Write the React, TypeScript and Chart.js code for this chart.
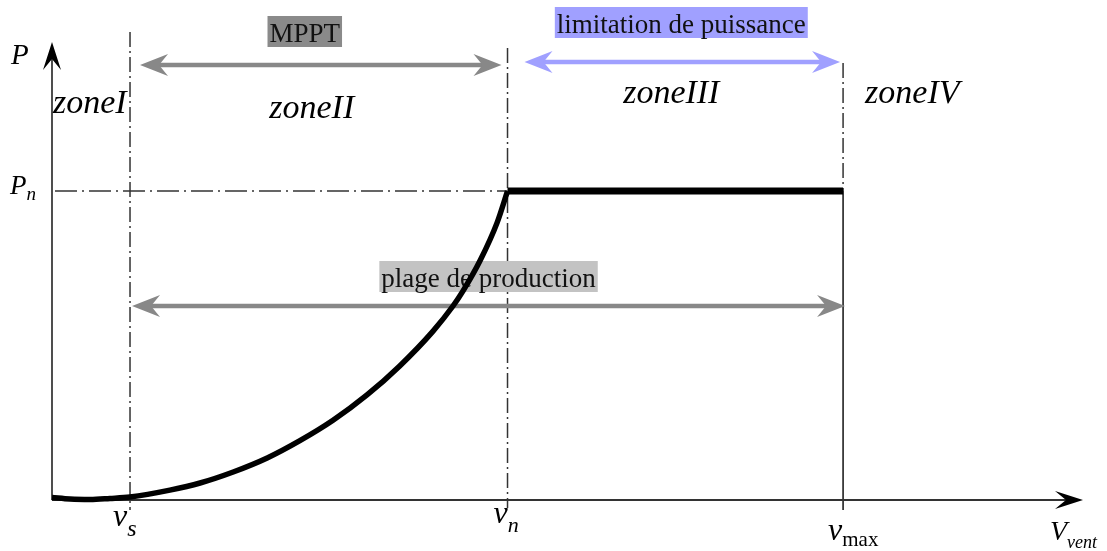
import React, { useEffect, useRef } from "react";
import { Chart, registerables } from "chart.js";

Chart.register(...registerables);

// Power curve (wind speed, normalised power)
const windSpeeds = [1.14, 1.57, 2.05, 2.52, 3.0, 3.95, 4.67, 5.46, 6.27, 7.05, 7.84, 8.65, 9.43, 10.22, 10.7, 10.94, 11.35, 11.75, 12.0];
const powerValues = [0.008, 0.003, 0.0016, 0.005, 0.0097, 0.032, 0.055, 0.0906, 0.136, 0.192, 0.258, 0.34, 0.434, 0.546, 0.628, 0.677, 0.776, 0.897, 1.0];
const ratedSpeeds = [12, 20];
const ratedPowers = [1, 1];

// Characteristic speeds and power
const vCutIn = 3;
const vRated = 12;
const vMax = 20;
const pRated = 1;
const xMin = 1.14;
const xMax = 25.72;
const yMax = 1.489;

const zoneLabels = ["zoneI", "zoneII", "zoneIII", "zoneIV"];
const arrowLabels = ["MPPT", "limitation de puissance", "plage de production"];

const SERIF = "'Liberation Serif', 'Times New Roman', serif";

function strokeLine(ctx: CanvasRenderingContext2D, x1: number, y1: number, x2: number, y2: number) {
  ctx.beginPath();
  ctx.moveTo(x1, y1);
  ctx.lineTo(x2, y2);
  ctx.stroke();
}

function barbHead(
  ctx: CanvasRenderingContext2D,
  tx: number,
  ty: number,
  dx: number,
  dy: number,
  len: number,
  half: number,
  notch: number,
  color: string
) {
  const bx = tx - dx * len;
  const by = ty - dy * len;
  const nx = -dy;
  const ny = dx;
  ctx.fillStyle = color;
  ctx.beginPath();
  ctx.moveTo(tx, ty);
  ctx.lineTo(bx + nx * half, by + ny * half);
  ctx.lineTo(tx - dx * notch, ty - dy * notch);
  ctx.lineTo(bx - nx * half, by - ny * half);
  ctx.closePath();
  ctx.fill();
}

function doubleArrow(ctx: CanvasRenderingContext2D, x1: number, x2: number, yy: number, color: string) {
  const len = 28, half = 11, notch = 19;
  ctx.save();
  ctx.strokeStyle = color;
  ctx.lineWidth = 4.5;
  ctx.setLineDash([]);
  strokeLine(ctx, x1 + notch - 2, yy, x2 - notch + 2, yy);
  barbHead(ctx, x1, yy, -1, 0, len, half, notch, color);
  barbHead(ctx, x2, yy, 1, 0, len, half, notch, color);
  ctx.restore();
}

function boxedText(ctx: CanvasRenderingContext2D, text: string, cx: number, baseline: number, bg: string) {
  ctx.save();
  ctx.font = `27px ${SERIF}`;
  const w = ctx.measureText(text).width;
  ctx.fillStyle = bg;
  ctx.fillRect(cx - w / 2 - 2, baseline - 26, w + 4, 31);
  ctx.fillStyle = "#111";
  ctx.textAlign = "center";
  ctx.textBaseline = "alphabetic";
  ctx.fillText(text, cx, baseline);
  ctx.restore();
}

function subText(
  ctx: CanvasRenderingContext2D,
  main: string,
  sub: string,
  x: number,
  baseline: number,
  mainSize: number,
  subSize: number,
  subDrop: number,
  subItalic = true
) {
  ctx.save();
  ctx.fillStyle = "#000";
  ctx.textAlign = "left";
  ctx.textBaseline = "alphabetic";
  ctx.font = `italic ${mainSize}px ${SERIF}`;
  ctx.fillText(main, x, baseline);
  const w = ctx.measureText(main).width;
  ctx.font = `${subItalic ? "italic " : ""}${subSize}px ${SERIF}`;
  ctx.fillText(sub, x + w, baseline + subDrop);
  ctx.restore();
}

const diagramPlugin = {
  id: "diagram",
  beforeDatasetsDraw(chart: any) {
    const ctx: CanvasRenderingContext2D = chart.ctx;
    const xs = chart.scales.x;
    const ys = chart.scales.y;
    const X = (v: number) => xs.getPixelForValue(v);
    const Y = (v: number) => ys.getPixelForValue(v);
    const x0 = X(xMin);
    const xE = X(xMax);
    const y0 = Y(0);
    const yT = Y(yMax);
    const xS = X(vCutIn);
    const xN = X(vRated);
    const xM = X(vMax);
    const yP = Y(pRated);

    ctx.save();
    // dash-dot guide lines
    ctx.strokeStyle = "#333";
    ctx.lineWidth = 1.5;
    ctx.setLineDash([15, 4, 2, 4]);
    strokeLine(ctx, xS, yT - 8, xS, y0 + 10);
    strokeLine(ctx, xN, yT + 8, xN, y0 + 8);
    strokeLine(ctx, xM, yT + 23, xM, yP);
    ctx.setLineDash([22, 5, 2, 5]);
    strokeLine(ctx, x0 + 3, yP, xN, yP);
    ctx.setLineDash([]);
    ctx.strokeStyle = "#111";
    strokeLine(ctx, xM, yP, xM, y0 + 10);

    // axes
    ctx.strokeStyle = "#222";
    ctx.lineWidth = 1.6;
    strokeLine(ctx, x0, y0, x0, yT + 12);
    ctx.strokeStyle = "#333";
    ctx.lineWidth = 2;
    strokeLine(ctx, x0, y0, xE - 12, y0);
    barbHead(ctx, x0, yT + 2, 0, -1, 28, 9, 17, "#000");
    barbHead(ctx, xE, y0, 1, 0, 28, 9, 17, "#000");

    // arrows
    doubleArrow(ctx, xS + 10, xN - 6, yT + 25, "#888888");
    doubleArrow(ctx, xN + 17, xM - 3, yT + 22, "#a0a0ff");
    doubleArrow(ctx, xS + 2, xM + 2, Y(0.628), "#888888");

    // boxed labels
    boxedText(ctx, arrowLabels[0], (xS + xN) / 2 - 14, yT + 2, "#8a8a8a");
    boxedText(ctx, arrowLabels[1], (xN + xM) / 2 + 6, yT - 7, "#a0a0ff");
    boxedText(ctx, arrowLabels[2], (xS + xM) / 2 + 2, yT + 247, "#c3c3c3");

    // zone labels
    ctx.fillStyle = "#000";
    ctx.font = `italic 34px ${SERIF}`;
    ctx.textBaseline = "alphabetic";
    ctx.textAlign = "left";
    ctx.fillText(zoneLabels[0], x0 + 1, yT + 73);
    ctx.textAlign = "center";
    ctx.fillText(zoneLabels[1], (xS + xN) / 2 - 7, yT + 78);
    ctx.fillText(zoneLabels[2], (xN + xM) / 2 - 4, yT + 63);
    ctx.textAlign = "left";
    ctx.fillText(zoneLabels[3], xM + 22, yT + 63);

    // axis labels
    ctx.font = `italic 29px ${SERIF}`;
    ctx.fillText("P", x0 - 41, yT + 24);
    subText(ctx, "P", "n", x0 - 42, yP + 3, 27, 19, 6);
    subText(ctx, "v", "s", xS - 17, y0 + 26, 32, 24, 10);
    subText(ctx, "v", "n", xN - 14, y0 + 23, 32, 22, 9);
    subText(ctx, "v", "max", xM - 15, y0 + 40, 32, 21, 6, false);
    subText(ctx, "V", "vent", xE - 33, y0 + 40, 28, 18, 8);
    ctx.restore();
  },
};

export default function App() {
  const canvasRef = useRef<HTMLCanvasElement | null>(null);

  useEffect(() => {
    document.body.style.margin = "0";
    const canvas = canvasRef.current;
    if (!canvas) return;
    const chart = new Chart(canvas, {
      type: "line",
      data: {
        datasets: [
          {
            data: windSpeeds.map((v, i) => ({ x: v, y: powerValues[i] })),
            borderColor: "#000",
            borderWidth: 5.5,
            pointRadius: 0,
            cubicInterpolationMode: "monotone",
            fill: false,
            clip: false as any,
            borderCapStyle: "butt",
            borderJoinStyle: "round",
          },
          {
            data: ratedSpeeds.map((v, i) => ({ x: v, y: ratedPowers[i] })),
            borderColor: "#000",
            borderWidth: 7,
            pointRadius: 0,
            fill: false,
            clip: false as any,
            borderCapStyle: "butt",
          },
        ],
      },
      options: {
        responsive: false,
        animation: false,
        events: [],
        layout: { padding: { left: 52, right: 24, top: 40, bottom: 51 } },
        plugins: { legend: { display: false }, tooltip: { enabled: false } },
        scales: {
          x: { type: "linear", min: xMin, max: xMax, display: false },
          y: { type: "linear", min: 0, max: yMax, display: false },
        },
      },
      plugins: [diagramPlugin],
    });
    return () => chart.destroy();
  }, []);

  return (
    <div style={{ position: "absolute", left: 0, top: 0, width: 1107, height: 551, background: "#fff" }}>
      <canvas ref={canvasRef} width={1107} height={551} />
    </div>
  );
}
